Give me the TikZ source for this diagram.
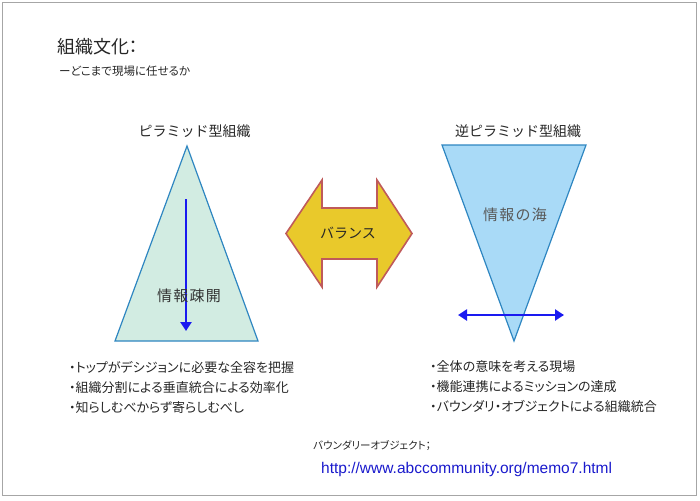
\documentclass[tikz,border=0pt]{standalone}
\usepackage{fontspec}
\setmainfont{Liberation Sans}
\newfontfamily\jp[RawFeature=+palt]{Noto Sans CJK JP}
\newfontfamily\jpm{Noto Sans CJK JP}
\newfontfamily\jpw[LetterSpace=8]{Noto Sans CJK JP}
\usetikzlibrary{arrows.meta}
\definecolor{frameg}{HTML}{A6A6A6}
\definecolor{triedge}{HTML}{2E86C1}
\definecolor{trimint}{HTML}{D2ECE2}
\definecolor{trisky}{HTML}{A9DAF7}
\definecolor{arrblue}{HTML}{1A1AF0}
\definecolor{balfill}{HTML}{E9C92B}
\definecolor{baledge}{HTML}{BF5A5A}
\definecolor{urlblue}{HTML}{1A1ACC}
\tikzset{
  jtext/.style={font=\jp, inner sep=0pt, text=black!85},
  headtext/.style={inner sep=0pt, text=black!85, font=\jpm\fontsize{14}{16}\selectfont},
  intext/.style={inner sep=0pt, font=\jpw\fontsize{15}{17}\selectfont},
  listtext/.style={font=\jp\fontsize{13}{20}\selectfont, inner sep=0pt, anchor=west, align=left, text=black!85},
  tri/.style={draw=triedge, line width=1.2pt, line join=miter},
  infoarrow/.style={draw=arrblue, line width=2.8pt},
}
\begin{document}
\begin{tikzpicture}[x=1pt,y=-1pt]
\useasboundingbox (0,0) rectangle (700,500);
\draw[frameg, line width=1.8pt] (2.5,2.5) rectangle (696.5,495.5);

% titles
\node[jtext, anchor=west, font=\jp\fontsize{18}{19}\selectfont] (title) at (57,47) {組織文化：};
\node[jtext, anchor=west, font=\jp\fontsize{11.5}{13}\selectfont] (sub) at (59,71) {ーどこまで現場に任せるか};

% left pyramid
\node[headtext] (lhead) at (194.5,131) {ピラミッド型組織};
\filldraw[tri, fill=trimint] (187,146) -- (258,341) -- (115,341) -- cycle;
\coordinate (ltop) at (186,199);
\coordinate (lbot) at (186,331);
\draw[infoarrow, -{Triangle[length=9pt,width=11pt]}] (ltop) -- (lbot);
\node[intext, text=black!80] (ltxt) at (189,296) {情報疎開};

% right inverted pyramid
\node[headtext] (rhead) at (518,131) {逆ピラミッド型組織};
\filldraw[tri, fill=trisky] (442,145) -- (586,145) -- (514,341) -- cycle;
\node[intext, text=black!65] (rtxt) at (515,215) {情報の海};
\coordinate (rl) at (458,315);
\coordinate (rr) at (564,315);
\draw[infoarrow, {Triangle[length=9pt,width=11pt]}-{Triangle[length=9pt,width=11pt]}] (rl) -- (rr);

% balance double arrow
\filldraw[fill=balfill, draw=baledge, line width=1.6pt, line join=miter]
  (286,233.5) -- (322,180) -- (322,208) -- (377,208) -- (377,180) -- (412,233.5)
  -- (377,287) -- (377,259) -- (322,259) -- (322,287) -- cycle;
\node[headtext] (bal) at (348,233) {バランス};

% lists
\node[listtext] (llist) at (69,387) {・トップがデシジョンに必要な全容を把握\\・組織分割による垂直統合による効率化\\・知らしむべからず寄らしむべし};
\node[listtext] (rlist) at (430,387) {・全体の意味を考える現場\\・機能連携によるミッションの達成\\・バウンダリ・オブジェクトによる組織統合};

% footer
\node[jtext, anchor=west, font=\jp\fontsize{10.5}{12}\selectfont] (bo) at (313,446) {バウンダリーオブジェクト；};
\node[anchor=west, inner sep=0pt, font=\fontsize{15.5}{17}\selectfont, text=urlblue] (url) at (321,469) {http://www.abccommunity.org/memo7.html};
\end{tikzpicture}
\end{document}
